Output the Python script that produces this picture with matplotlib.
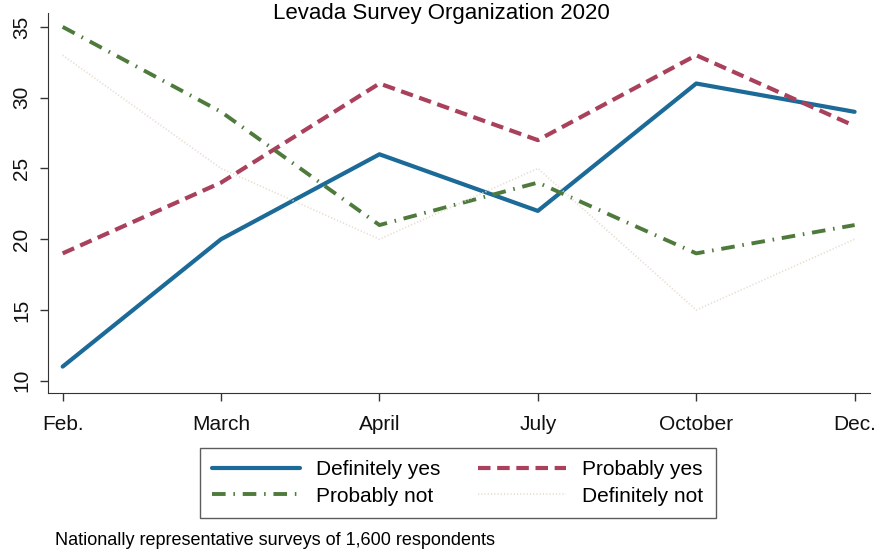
import matplotlib.pyplot as plt

plt.rcParams["font.family"] = ["Liberation Sans", "DejaVu Sans"]

months = ["Feb.", "March", "April", "July", "October", "Dec."]
definitely_yes = [11, 20, 26, 22, 31, 29]
probably_yes = [19, 24, 31, 27, 33, 28]
probably_not = [35, 29, 21, 24, 19, 21]
definitely_not = [33, 25, 20, 25, 15, 20]

fig = plt.figure(figsize=(8.82, 5.54), dpi=100)
ax = fig.add_axes([0.054, 0.291, 0.932, 0.686])

x = list(range(len(months)))
l1, = ax.plot(x, definitely_yes, color="#1b6a98", lw=3.0,
              solid_capstyle="round", label="Definitely yes")
l2, = ax.plot(x, probably_yes, color="#a9405c", lw=3.0, dashes=(3.0, 1.6),
              label="Probably yes")
l3, = ax.plot(x, probably_not, color="#4e7a3c", lw=2.8,
              dashes=(3.5, 2.0, 0.4, 2.0), label="Probably not")
l4, = ax.plot(x, definitely_not, color="#e6dccd", lw=1.3, dashes=(0.6, 1.2),
              label="Definitely not")

ax.set_xlim(-0.095, 5.095)
ax.set_ylim(9.15, 36)
ax.set_xticks(x)
ax.set_xticklabels(months, fontsize=15)
ax.set_yticks([10, 15, 20, 25, 30, 35])
ax.set_yticklabels(["10", "15", "20", "25", "30", "35"], fontsize=15,
                   rotation=90, va="center")
ax.tick_params(axis="both", colors="#333333", labelcolor="#111111",
               length=6, width=1)
ax.tick_params(axis="x", pad=10)
ax.tick_params(axis="y", pad=6)
for side in ["top", "right"]:
    ax.spines[side].set_visible(False)
for side in ["left", "bottom"]:
    ax.spines[side].set_color("#333333")

# the scan cuts the title at the top; keep it fully visible here
fig.text(0.5, 0.966, "Levada Survey Organization 2020", ha="center",
         va="baseline", fontsize=16)

# row-wise order like the original legend
leg = fig.legend([l1, l3, l2, l4],
                 ["Definitely yes", "Probably not", "Probably yes", "Definitely not"],
                 loc="center", bbox_to_anchor=(0.519, 0.128), ncol=2,
                 fontsize=15, frameon=True, fancybox=False, handlelength=4.2,
                 columnspacing=1.8, handletextpad=0.8, borderpad=0.6,
                 labelspacing=0.35)
leg.get_frame().set_edgecolor("#333333")
leg.get_frame().set_linewidth(1.0)

fig.text(0.062, 0.016, "Nationally representative surveys of 1,600 respondents",
         fontsize=13, ha="left", va="baseline")

fig.savefig("out.png", dpi=100)
